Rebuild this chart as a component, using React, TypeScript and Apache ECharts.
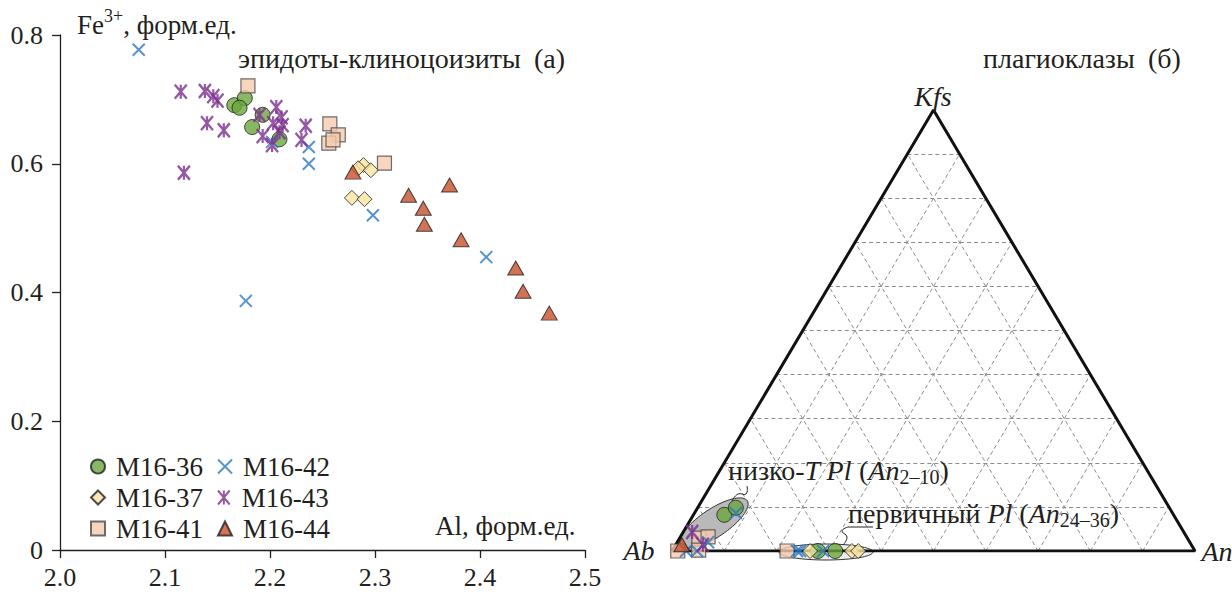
import React, { useEffect, useRef } from "react";
import * as echarts from "echarts";

const FONT = "Liberation Serif";
const TXT = "#231f20";
const FS = 27;
const FT = 26;
const FA = 28;

const seriesNames = ["M16-36", "M16-37", "M16-41", "M16-42", "M16-43", "M16-44"];
const legendOrder = ["M16-36", "M16-42", "M16-37", "M16-43", "M16-41", "M16-44"];
const xTicks = { min: 2.0, max: 2.5, step: 0.1 };
const yTicks = { min: 0, max: 0.8, step: 0.2 };

// Epidote–clinozoisite: [Al, Fe3+]
const epM16_36 = [[2.166, 0.691], [2.176, 0.702], [2.171, 0.687], [2.193, 0.676], [2.183, 0.657], [2.209, 0.638]];
const epM16_37 = [[2.289, 0.598], [2.284, 0.593], [2.296, 0.59], [2.278, 0.547], [2.29, 0.545]];
const epM16_41 = [[2.179, 0.721], [2.257, 0.662], [2.265, 0.645], [2.256, 0.632], [2.26, 0.637], [2.309, 0.601]];
const epM16_42 = [[2.075, 0.777], [2.237, 0.626], [2.237, 0.6], [2.202, 0.634], [2.298, 0.52], [2.177, 0.387], [2.406, 0.455]];
const epM16_43 = [
  [2.115, 0.712], [2.138, 0.713], [2.146, 0.705], [2.15, 0.698], [2.14, 0.663], [2.156, 0.652], [2.118, 0.586],
  [2.19, 0.676], [2.206, 0.688], [2.211, 0.672], [2.203, 0.663], [2.212, 0.66], [2.193, 0.643], [2.202, 0.629],
  [2.209, 0.649], [2.234, 0.659], [2.23, 0.637],
];
const epM16_44 = [[2.279, 0.587], [2.332, 0.551], [2.371, 0.567], [2.346, 0.531], [2.347, 0.506], [2.382, 0.482], [2.434, 0.438], [2.441, 0.402], [2.466, 0.368]];

// Plagioclase: [An, Kfs] (Ab = 1 - An - Kfs)
const plM16_36 = [[0.059, 0.082], [0.073, 0.098], [0.279, 0], [0.312, 0]];
const plM16_37 = [[0.264, 0], [0.344, 0], [0.356, 0]];
const plM16_41 = [[0.011, 0], [0.037, 0.029], [0.053, 0.032], [0.05, 0.002], [0.22, 0]];
const plM16_42 = [[0.079, 0.086], [0.027, 0], [0.048, 0], [0.059, 0.02], [0.239, 0], [0.245, 0], [0.289, 0]];
const plM16_43 = [[0.017, 0.043], [0.052, 0.014]];
const plM16_44 = [[0.012, 0.014]];
const ternaryGridSteps = [0.1, 0.2, 0.3, 0.4, 0.5, 0.6, 0.7, 0.8, 0.9];

const toXY = (p: number[]) => [p[0] + p[1] / 2, p[1]];

const STYLES: Record<string, any> = {
  "M16-36": { symbol: "circle", symbolSize: 15, itemStyle: { color: "#6aa63c", borderColor: "#1f1f1f", borderWidth: 1 } },
  "M16-37": { symbol: "diamond", symbolSize: 15, itemStyle: { color: "#f8e49f", borderColor: "#1f1f1f", borderWidth: 1 } },
  "M16-41": { symbol: "rect", symbolSize: 14, itemStyle: { color: "#f5cbaf", borderColor: "#4a4a4a", borderWidth: 1.2 } },
  "M16-42": { symbol: "path://M0,0L10,10M10,0L0,10", symbolSize: 12, itemStyle: { color: "transparent", borderColor: "#2b78c2", borderWidth: 2 } },
  "M16-43": { symbol: "path://M0,0L10,12M10,0L0,12M5,0L5,12", symbolSize: [12, 14], itemStyle: { color: "transparent", borderColor: "#7a2e8e", borderWidth: 2.4 } },
  "M16-44": { symbol: "triangle", symbolSize: [16, 14], itemStyle: { color: "#c8502a", borderColor: "#1f1f1f", borderWidth: 1 } },
};

const epData: Record<string, number[][]> = {
  "M16-36": epM16_36, "M16-37": epM16_37, "M16-41": epM16_41,
  "M16-42": epM16_42, "M16-43": epM16_43, "M16-44": epM16_44,
};
const plData: Record<string, number[][]> = {
  "M16-36": plM16_36, "M16-37": plM16_37, "M16-41": plM16_41,
  "M16-42": plM16_42, "M16-43": plM16_43, "M16-44": plM16_44,
};

// Text built from plain segments (normal / italic / sub- or superscript)
function segs(x: number, y: number, parts: any[]) {
  const ctx = document.createElement("canvas").getContext("2d")!;
  let cx = x;
  const out: any[] = [];
  parts.forEach((p) => {
    const sz = p.sz || FS;
    ctx.font = `${p.it ? "italic " : ""}${sz}px ${FONT}`;
    const w = ctx.measureText(p.t).width;
    out.push({
      type: "text", x: cx, y: y + (p.dy || 0), z: 6,
      style: { text: p.t, fontFamily: FONT, fontSize: sz, fontStyle: p.it ? "italic" : "normal", fill: TXT, verticalAlign: "middle" },
    });
    cx += w;
  });
  return out;
}

function ellipsePoints(cx: number, cy: number, rx: number, ry: number, ang: number) {
  const pts: number[][] = [];
  for (let k = 0; k < 72; k++) {
    const t = (k / 72) * Math.PI * 2;
    const ex = rx * Math.cos(t), ey = ry * Math.sin(t);
    pts.push([cx + ex * Math.cos(ang) + ey * Math.sin(ang), cy - ex * Math.sin(ang) + ey * Math.cos(ang)]);
  }
  return pts;
}

export default function App() {
  const ref = useRef<HTMLDivElement>(null);
  useEffect(() => {
    if (!ref.current) return;
    const chart = echarts.init(ref.current, undefined, { renderer: "svg" });

    const gridLines: any[] = [];
    ternaryGridSteps.forEach((t) => {
      gridLines.push({ coords: [[t / 2, t], [1 - t / 2, t]] });
      gridLines.push({ coords: [[t, 0], [t + (1 - t) / 2, 1 - t]] });
      gridLines.push({ coords: [[1 - t, 0], [(1 - t) / 2, 1 - t]] });
    });

    const txt = (x: number, y: number, text: string, size: number, extra: any = {}) => ({
      type: "text", x, y, z: 6,
      style: { text, fontFamily: FONT, fontSize: size, fill: TXT, verticalAlign: "middle", ...extra },
    });

    const series: any[] = [];
    seriesNames.forEach((n) => {
      series.push({ name: n, type: "scatter", xAxisIndex: 0, yAxisIndex: 0, z: 5, data: epData[n], ...STYLES[n] });
    });
    series.push({
      type: "lines", coordinateSystem: "cartesian2d", xAxisIndex: 1, yAxisIndex: 1, z: 1,
      silent: true, data: gridLines,
      lineStyle: { color: "#8c8c8c", width: 1, type: [4, 3], opacity: 1 },
    });
    series.push({
      type: "line", xAxisIndex: 1, yAxisIndex: 1, z: 3, silent: true, symbol: "none",
      data: [[0, 0], [0.5, 1], [1, 0], [0, 0]],
      lineStyle: { color: "#111", width: 3 },
    });
    seriesNames.forEach((n) => {
      series.push({ name: n, type: "scatter", xAxisIndex: 1, yAxisIndex: 1, z: 5, data: plData[n].map(toXY), ...STYLES[n] });
    });

    chart.setOption({
      animation: false,
      backgroundColor: "#ffffff",
      grid: [
        { left: 60, top: 35, width: 525, height: 515 },
        { left: 672, top: 110, width: 523, height: 441 },
      ],
      xAxis: [
        {
          type: "value", gridIndex: 0, min: xTicks.min, max: xTicks.max, interval: xTicks.step,
          axisLine: { lineStyle: { color: "#231f20", width: 1.3 } },
          axisTick: { show: true, length: 8, lineStyle: { color: "#231f20", width: 1.3 } },
          splitLine: { show: false },
          axisLabel: { fontFamily: FONT, fontSize: FT, color: TXT, margin: 14, formatter: (v: number) => v.toFixed(1) },
        },
        { type: "value", gridIndex: 1, min: 0, max: 1, show: false },
      ],
      yAxis: [
        {
          type: "value", gridIndex: 0, min: yTicks.min, max: yTicks.max, interval: yTicks.step,
          axisLine: { show: true, lineStyle: { color: "#231f20", width: 1.3 } },
          axisTick: { show: true, length: 8, lineStyle: { color: "#231f20", width: 1.3 } },
          splitLine: { show: false },
          axisLabel: { fontFamily: FONT, fontSize: FT, color: TXT, margin: 17, formatter: (v: number) => (v === 0 ? "0" : v.toFixed(1)) },
        },
        { type: "value", gridIndex: 1, min: 0, max: 1, show: false },
      ],
      legend: {
        data: legendOrder, orient: "horizontal", left: 85, top: 448, width: 260,
        itemGap: 4, itemWidth: 14, itemHeight: 14,
        textStyle: { fontFamily: FONT, fontSize: FS, color: TXT, width: 97, lineHeight: 27, padding: [0, 0, 0, 6] },
      },
      graphic: [
        ...segs(77, 25, [{ t: "Fe" }, { t: "3+", sz: 18, dy: -9 }, { t: ", форм.ед." }]),
        txt(238, 58, "эпидоты-клиноцоизиты", FA),
        txt(534, 58, "(а)", FA),
        txt(435, 526, "Al, форм.ед.", FS),
        txt(983, 58, "плагиоклазы", FA),
        txt(1148, 58, "(б)", FA),
        txt(933, 96, "Kfs", FA, { fontStyle: "italic", align: "center" }),
        txt(639, 550, "Ab", FA, { fontStyle: "italic", align: "center" }),
        txt(1217, 551, "An", FA, { fontStyle: "italic", align: "center" }),
        {
          type: "polygon", z: 2,
          shape: { points: ellipsePoints(714, 523, 40, 14, 0.59) },
          style: { fill: "#b9b9b9", stroke: "#333", lineWidth: 1 },
        },
        {
          type: "polygon", z: 2,
          shape: { points: ellipsePoints(826, 552, 47, 8, 0) },
          style: { fill: "#ededed", stroke: "#333", lineWidth: 1 },
        },
        {
          type: "polyline", z: 4,
          shape: { points: [[747, 486], [746, 494], [738, 494], [732, 501]], smooth: 0.5 },
          style: { stroke: "#222", lineWidth: 1 },
        },
        {
          type: "polyline", z: 4,
          shape: { points: [[873, 527], [848, 527]] },
          style: { stroke: "#222", lineWidth: 1 },
        },
        {
          type: "polyline", z: 4,
          shape: { points: [[848, 527], [842, 531], [847, 537], [843, 545]], smooth: 0.5 },
          style: { stroke: "#222", lineWidth: 1 },
        },
        ...segs(728, 470, [{ t: "низко-", sz: FA }, { t: "T Pl", it: true, sz: FA }, { t: " (", sz: FA }, { t: "An", it: true, sz: FA }, { t: "2–10", sz: 20, dy: 7 }, { t: ")", sz: FA }]),
        ...segs(848, 513, [{ t: "первичный ", sz: FA }, { t: "Pl", it: true, sz: FA }, { t: " (", sz: FA }, { t: "An", it: true, sz: FA }, { t: "24–36", sz: 20, dy: 7 }, { t: ")", sz: FA }]),
      ],
      series,
    });
    return () => chart.dispose();
  }, []);
  return <div ref={ref} style={{ position: "fixed", left: 0, top: 0, width: 1232, height: 594 }} />;
}
